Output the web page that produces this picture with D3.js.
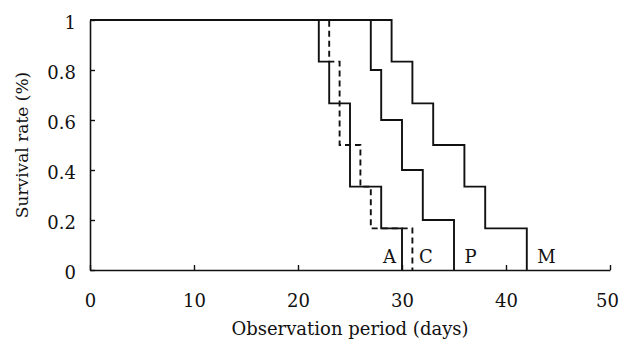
<!DOCTYPE html>
<html>
<head>
<meta charset="utf-8">
<script src="https://cdn.jsdelivr.net/npm/d3@7"></script>
<style>
    body { margin: 0; background: #fff; }
    svg { display: block; }
    text { font-family: "DejaVu Serif", "Liberation Serif", serif; fill: #111; }
</style>
</head>
<body>
<svg id="chart" width="620" height="343"></svg>
<script>
// survival steps: [day, survival]; each group starts at day 0 with 1
var groupA = [[0, 1], [22, 5 / 6], [23, 4 / 6], [25, 2 / 6], [28, 1 / 6], [30, 0]];
var groupC = [[0, 1], [23, 5 / 6], [24, 3 / 6], [26, 2 / 6], [27, 1 / 6], [31, 0]];
var groupP = [[0, 1], [27, 0.8], [28, 0.6], [30, 0.4], [32, 0.2], [35, 0]];
var groupM = [[0, 1], [29, 5 / 6], [31, 4 / 6], [33, 3 / 6], [36, 2 / 6], [38, 1 / 6], [42, 0]];

var xTicks = [0, 10, 20, 30, 40, 50];
var yTicks = [0, 0.2, 0.4, 0.6, 0.8, 1];
var curveLabels = ["A", "C", "P", "M"];
var labelDays = [28.8, 32.3, 36.6, 43.9];

var svg = d3.select("#chart"),
    margin = { top: 20, right: 10, bottom: 73, left: 90 },
    width = +svg.attr("width") - margin.left - margin.right,
    height = +svg.attr("height") - margin.top - margin.bottom;

var x = d3.scaleLinear().domain([0, 50]).range([0, width]),
    y = d3.scaleLinear().domain([0, 1]).range([height, 0]);

var g = svg.append("g")
    .attr("transform", "translate(" + margin.left + "," + margin.top + ")");

var xAxis = g.append("g")
    .attr("transform", "translate(0," + height + ")")
    .call(d3.axisBottom(x).tickValues(xTicks).tickSizeInner(-5).tickSizeOuter(0).tickPadding(24));

var yAxis = g.append("g")
    .call(d3.axisLeft(y).tickValues(yTicks).tickSizeInner(-5).tickSizeOuter(0).tickPadding(14)
        .tickFormat(function (d) { return d3.format("")(+d.toFixed(1)); }));

[xAxis, yAxis].forEach(function (ax) {
    ax.select(".domain").attr("stroke", "#111").attr("stroke-width", 1.6);
    ax.selectAll(".tick line").attr("stroke", "#111").attr("stroke-width", 1.4);
    ax.selectAll(".tick text").style("font-size", "18px")
        .style("font-family", "'DejaVu Serif', serif").attr("fill", "#111");
});
yAxis.selectAll(".tick text").attr("dy", "0.45em");
// last label sits on the right edge, pull it in a bit
xAxis.selectAll(".tick text").filter(function (d) { return d === 50; }).attr("dx", -3);

var line = d3.line()
    .x(function (d) { return x(d[0]); })
    .y(function (d) { return y(d[1]); })
    .curve(d3.curveStepAfter);

var groups = [
    { data: groupA, dash: null },
    { data: groupC, dash: "6,4" },
    { data: groupP, dash: null },
    { data: groupM, dash: null }
];

g.selectAll(".km")
    .data(groups)
    .enter().append("path")
    .attr("class", "km")
    .attr("d", function (d) { return line(d.data); })
    .attr("fill", "none")
    .attr("stroke", "#111")
    .attr("stroke-width", 1.9)
    .attr("stroke-dasharray", function (d) { return d.dash; });

g.selectAll(".lbl")
    .data(curveLabels)
    .enter().append("text")
    .attr("class", "lbl")
    .attr("x", function (d, i) { return x(labelDays[i]); })
    .attr("y", height - 7)
    .attr("text-anchor", "middle")
    .style("font-size", "18px")
    .text(function (d) { return d; });

svg.append("text")
    .attr("x", margin.left + x(25))
    .attr("y", 335)
    .attr("text-anchor", "middle")
    .style("font-size", "18px")
    .text("Observation period (days)");

svg.append("text")
    .attr("transform", "translate(28," + (margin.top + height / 2) + ") rotate(-90)")
    .attr("text-anchor", "middle")
    .style("font-size", "17px")
    .text("Survival rate (%)");
</script>
</body>
</html>
